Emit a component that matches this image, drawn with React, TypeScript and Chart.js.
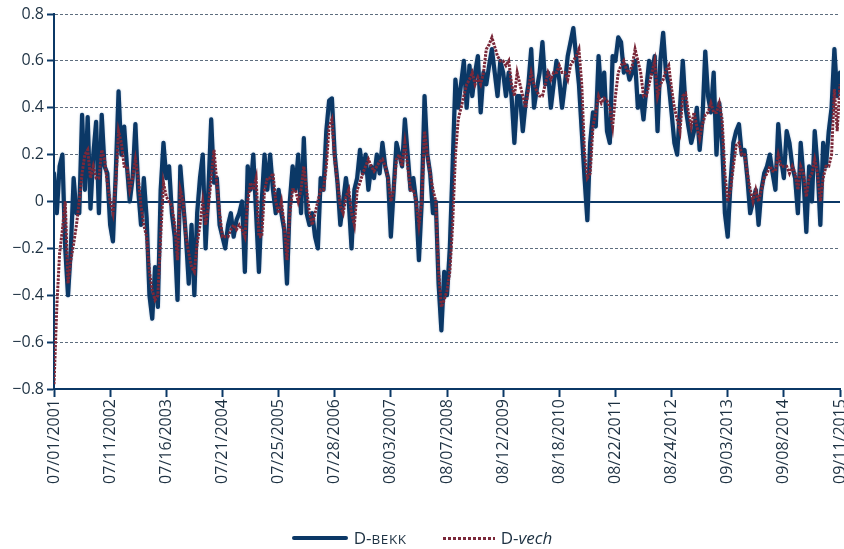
import React, { useEffect, useRef } from "react";
import { Chart, registerables } from "chart.js";

Chart.register(...registerables);

// Tick labels on the time axis (one every 20 observations in the arrays below)
const dateLabels = [
  "07/01/2001", "07/11/2002", "07/16/2003", "07/21/2004", "07/25/2005",
  "07/28/2006", "08/03/2007", "08/07/2008", "08/12/2009", "08/18/2010",
  "08/22/2011", "08/24/2012", "09/03/2013", "09/08/2014", "09/11/2015",
];
const POINTS_PER_LABEL = 20;

// D-BEKK dynamic correlation
const bekkValues = [
  0.12, -0.05, 0.15, 0.2, -0.2, -0.4, -0.2, 0.1, -0.05, -0.05, 0.37, 0.05, 0.36, -0.03, 0.2, 0.34, -0.05, 0.37, 0.15, 0.12,
  -0.1, -0.17, 0.12, 0.47, 0.2, 0.32, 0.15, 0.0, 0.1, 0.33, 0.05, -0.1, 0.1, -0.07, -0.4, -0.5, -0.28, -0.45, 0.05, 0.25,
  0.1, 0.15, -0.05, -0.15, -0.42, 0.15, 0.0, -0.15, -0.35, -0.1, -0.4, -0.05, 0.1, 0.2, -0.2, 0.05, 0.35, 0.08, 0.1, -0.1,
  -0.15, -0.2, -0.1, -0.05, -0.15, -0.08, -0.05, 0.0, -0.3, 0.15, 0.05, 0.2, -0.05, -0.3, 0.0, 0.2, 0.05, 0.2, 0.05, -0.05,
  0.05, -0.05, -0.12, -0.35, 0.0, 0.15, 0.05, 0.2, -0.05, 0.27, -0.05, -0.1, -0.05, -0.15, -0.2, 0.1, 0.05, 0.3, 0.43, 0.44,
  0.2, 0.08, -0.1, 0.0, 0.1, 0.0, -0.2, 0.05, 0.1, 0.22, 0.12, 0.2, 0.05, 0.15, 0.1, 0.2, 0.12, 0.25, 0.15, 0.1,
  -0.15, 0.05, 0.25, 0.2, 0.15, 0.35, 0.2, 0.05, 0.1, 0.0, -0.25, 0.0, 0.45, 0.2, 0.12, -0.05, 0.0, -0.35, -0.55, -0.3,
  -0.4, -0.2, 0.15, 0.52, 0.4, 0.5, 0.6, 0.4, 0.58, 0.45, 0.55, 0.62, 0.38, 0.55, 0.5, 0.58, 0.65, 0.55, 0.45, 0.6,
  0.55, 0.45, 0.55, 0.45, 0.25, 0.45, 0.45, 0.3, 0.42, 0.5, 0.65, 0.4, 0.48, 0.55, 0.68, 0.5, 0.55, 0.4, 0.5, 0.6,
  0.52, 0.4, 0.5, 0.62, 0.68, 0.74, 0.62, 0.5, 0.3, 0.1, -0.08, 0.25, 0.38, 0.32, 0.62, 0.45, 0.55, 0.3, 0.25, 0.62,
  0.6, 0.7, 0.68, 0.55, 0.58, 0.52, 0.55, 0.6, 0.4, 0.45, 0.35, 0.48, 0.6, 0.55, 0.62, 0.3, 0.6, 0.72, 0.55, 0.5,
  0.38, 0.25, 0.2, 0.4, 0.6, 0.4, 0.32, 0.25, 0.3, 0.4, 0.22, 0.35, 0.64, 0.45, 0.38, 0.55, 0.2, 0.42, 0.25, -0.05,
  -0.15, 0.08, 0.25, 0.3, 0.33, 0.2, 0.22, 0.1, -0.05, 0.0, 0.05, -0.1, 0.05, 0.12, 0.15, 0.2, 0.12, 0.05, 0.33, 0.18,
  0.1, 0.3, 0.25, 0.15, 0.1, -0.05, 0.25, 0.1, -0.13, 0.15, 0.0, 0.3, 0.15, -0.1, 0.25, 0.15, 0.3, 0.4, 0.65, 0.45, 0.55,
];

// D-vech dynamic correlation
const vechValues = [
  -0.78, -0.45, -0.22, -0.12, 0.0, -0.35, -0.25, -0.18, -0.1, 0.0, 0.12, 0.2, 0.22, 0.1, 0.15, 0.1, 0.1, 0.22, 0.18, 0.08,
  0.0, -0.05, 0.08, 0.3, 0.25, 0.15, 0.15, 0.05, 0.1, 0.18, 0.1, -0.02, -0.1, -0.15, -0.3, -0.38, -0.42, -0.4, -0.15, 0.08,
  0.02, 0.0, -0.02, -0.1, -0.25, 0.05, 0.0, -0.15, -0.22, -0.28, -0.3, -0.18, -0.1, 0.0, -0.1, -0.02, 0.1, 0.22, 0.08, -0.05,
  -0.15, -0.15, -0.15, -0.12, -0.1, -0.12, -0.1, -0.12, -0.15, 0.0, 0.08, 0.05, 0.1, -0.15, -0.15, 0.05, 0.1, 0.1, 0.12, 0.0,
  -0.05, 0.0, -0.1, -0.25, -0.05, 0.05, 0.05, 0.0, 0.05, 0.15, 0.05, -0.05, -0.1, -0.05, 0.0, 0.05, 0.05, 0.15, 0.32, 0.35,
  0.18, 0.08, -0.02, -0.05, 0.02, 0.05, -0.05, -0.1, 0.05, 0.08, 0.12, 0.15, 0.18, 0.15, 0.13, 0.15, 0.17, 0.18, 0.15, 0.1,
  0.0, 0.05, 0.18, 0.2, 0.15, 0.25, 0.15, 0.05, 0.05, 0.0, -0.1, 0.0, 0.3, 0.2, 0.12, 0.05, 0.0, -0.3, -0.45, -0.42,
  -0.38, -0.3, -0.1, 0.2, 0.35, 0.4, 0.45, 0.5, 0.52, 0.55, 0.5, 0.53, 0.5, 0.55, 0.65, 0.67, 0.7, 0.66, 0.62, 0.6,
  0.6, 0.58, 0.6, 0.5, 0.45, 0.55, 0.5, 0.45, 0.4, 0.48, 0.55, 0.5, 0.47, 0.45, 0.45, 0.5, 0.55, 0.52, 0.55, 0.55,
  0.58, 0.55, 0.55, 0.52, 0.58, 0.6, 0.62, 0.65, 0.5, 0.2, 0.1, 0.12, 0.32, 0.38, 0.45, 0.42, 0.44, 0.43, 0.4, 0.32,
  0.45, 0.55, 0.58, 0.6, 0.56, 0.55, 0.58, 0.65, 0.6, 0.55, 0.45, 0.45, 0.5, 0.55, 0.6, 0.45, 0.5, 0.52, 0.56, 0.58,
  0.48, 0.4, 0.35, 0.3, 0.45, 0.46, 0.38, 0.32, 0.38, 0.32, 0.27, 0.33, 0.37, 0.38, 0.42, 0.38, 0.38, 0.42, 0.35, 0.12,
  0.0, 0.05, 0.15, 0.24, 0.25, 0.2, 0.2, 0.12, 0.05, 0.0, 0.05, 0.0, 0.05, 0.1, 0.12, 0.15, 0.13, 0.13, 0.2, 0.15,
  0.15, 0.15, 0.12, 0.15, 0.12, 0.05, 0.15, 0.12, 0.02, 0.1, 0.12, 0.18, 0.12, 0.0, 0.1, 0.15, 0.15, 0.2, 0.48, 0.3, 0.5,
];

const Y_MIN = -0.8;
const Y_MAX = 0.8;
const Y_STEP = 0.2;

const NAVY = "#0b3866";
const MAROON = "#7a2839";
const TEXT = "#1d3142";
const GRID = "#5d6d7e";
const FONT = "'Open Sans', 'Noto Sans', sans-serif";

const zeroLinePlugin = {
  id: "zeroLine",
  beforeDatasetsDraw(chart: any) {
    const { ctx, chartArea, scales } = chart;
    const y = Math.round(scales.y.getPixelForValue(0));
    ctx.save();
    ctx.strokeStyle = NAVY;
    ctx.lineWidth = 2;
    ctx.setLineDash([]);
    ctx.beginPath();
    ctx.moveTo(chartArea.left, y);
    ctx.lineTo(chartArea.right, y);
    ctx.stroke();
    ctx.restore();
  },
};

const haloPlugin = {
  id: "halo",
  beforeDatasetDraw(chart: any, args: any) {
    if (args.meta.label === "D-BEKK") {
      chart.ctx.shadowColor = "rgba(110,140,180,0.55)";
      chart.ctx.shadowBlur = 2;
    }
  },
  afterDatasetDraw(chart: any) {
    chart.ctx.shadowColor = "rgba(0,0,0,0)";
    chart.ctx.shadowBlur = 0;
  },
};

export default function App() {
  const canvasRef = useRef<HTMLCanvasElement | null>(null);

  useEffect(() => {
    if (!canvasRef.current) return;
    const chart = new Chart(canvasRef.current, {
      type: "line",
      data: {
        datasets: [
          {
            label: "D-BEKK",
            data: bekkValues.map((v, i) => ({ x: i, y: v })),
            borderColor: NAVY,
            borderWidth: 4.2,
            pointRadius: 0,
            tension: 0,
            borderJoinStyle: "round",
            borderCapStyle: "round",
            order: 2,
          },
          {
            label: "D-vech",
            data: vechValues.map((v, i) => ({ x: i, y: v })),
            borderColor: MAROON,
            borderWidth: 3,
            borderDash: [2.5, 1.2],
            pointRadius: 0,
            tension: 0,
            order: 1,
          },
        ],
      },
      options: {
        animation: false,
        responsive: false,
        maintainAspectRatio: false,
        layout: { padding: { top: 14, right: 4, bottom: 58, left: 0 } },
        plugins: {
          legend: { display: false },
          tooltip: { enabled: false },
        },
        scales: {
          x: {
            type: "linear",
            min: 0,
            max: (dateLabels.length - 1) * POINTS_PER_LABEL,
            afterFit: (s: any) => {
              s.height = 102;
              s.paddingLeft = 0;
              s.paddingRight = 0;
            },
            afterBuildTicks: (s: any) => {
              s.ticks = dateLabels.map((_, i) => ({ value: i * POINTS_PER_LABEL }));
            },
            ticks: {
              autoSkip: false,
              minRotation: 90,
              maxRotation: 90,
              padding: 2,
              color: TEXT,
              font: { family: FONT, size: 16 },
              callback: (v: any) => dateLabels[Math.round(Number(v) / POINTS_PER_LABEL)] ?? "",
            },
            grid: {
              drawOnChartArea: false,
              drawTicks: true,
              tickLength: 8,
              tickColor: NAVY,
              tickWidth: 2,
            },
            border: { display: true, color: NAVY, width: 2 },
          },
          y: {
            type: "linear",
            min: Y_MIN,
            max: Y_MAX,
            afterFit: (s: any) => {
              s.width = 54;
              s.paddingTop = 0;
              s.paddingBottom = 0;
            },
            ticks: {
              stepSize: Y_STEP,
              padding: 3,
              color: TEXT,
              font: { family: FONT, size: 16 },
              callback: (v: any) => {
                const n = Math.round(Number(v) * 10) / 10;
                if (n === 0) return "0";
                return n < 0 ? "\u2212" + Math.abs(n).toFixed(1) : n.toFixed(1);
              },
            },
            grid: {
              display: true,
              drawOnChartArea: true,
              color: GRID,
              lineWidth: 1,
              drawTicks: true,
              tickLength: 7,
              tickColor: NAVY,
              tickWidth: 2,
            },
            border: { display: true, color: NAVY, width: 2, dash: [3, 2] },
          },
        },
      },
      plugins: [zeroLinePlugin, haloPlugin],
    } as any);
    return () => chart.destroy();
  }, []);

  const legendText: React.CSSProperties = {
    fontFamily: FONT,
    fontSize: 17,
    color: TEXT,
    lineHeight: "20px",
    whiteSpace: "nowrap",
  };

  return (
    <div style={{ position: "fixed", left: 0, top: 0, width: 844, height: 549, background: "#fff" }}>
      <canvas ref={canvasRef} width={844} height={549} style={{ position: "absolute", left: 0, top: 0, width: 844, height: 549 }} />
      <div
        style={{
          position: "absolute",
          left: 0,
          top: 528,
          width: 844,
          height: 20,
          display: "flex",
          justifyContent: "center",
          alignItems: "center",
        }}
      >
        <div style={{ display: "flex", alignItems: "center", marginRight: 36 }}>
          <span style={{ display: "inline-block", width: 56, height: 4, borderRadius: 2, background: NAVY, marginRight: 6 }} />
          <span style={legendText}>
            D-<span style={{ fontSize: 13.5, letterSpacing: 0.6 }}>BEKK</span>
          </span>
        </div>
        <div style={{ display: "flex", alignItems: "center" }}>
          <span
            style={{
              display: "inline-block",
              width: 52,
              height: 3,
              marginRight: 6,
              background: `repeating-linear-gradient(to right, ${MAROON} 0px, ${MAROON} 3px, transparent 3px, transparent 5px)`,
            }}
          />
          <span style={legendText}>
            D-<i>vech</i>
          </span>
        </div>
      </div>
    </div>
  );
}
